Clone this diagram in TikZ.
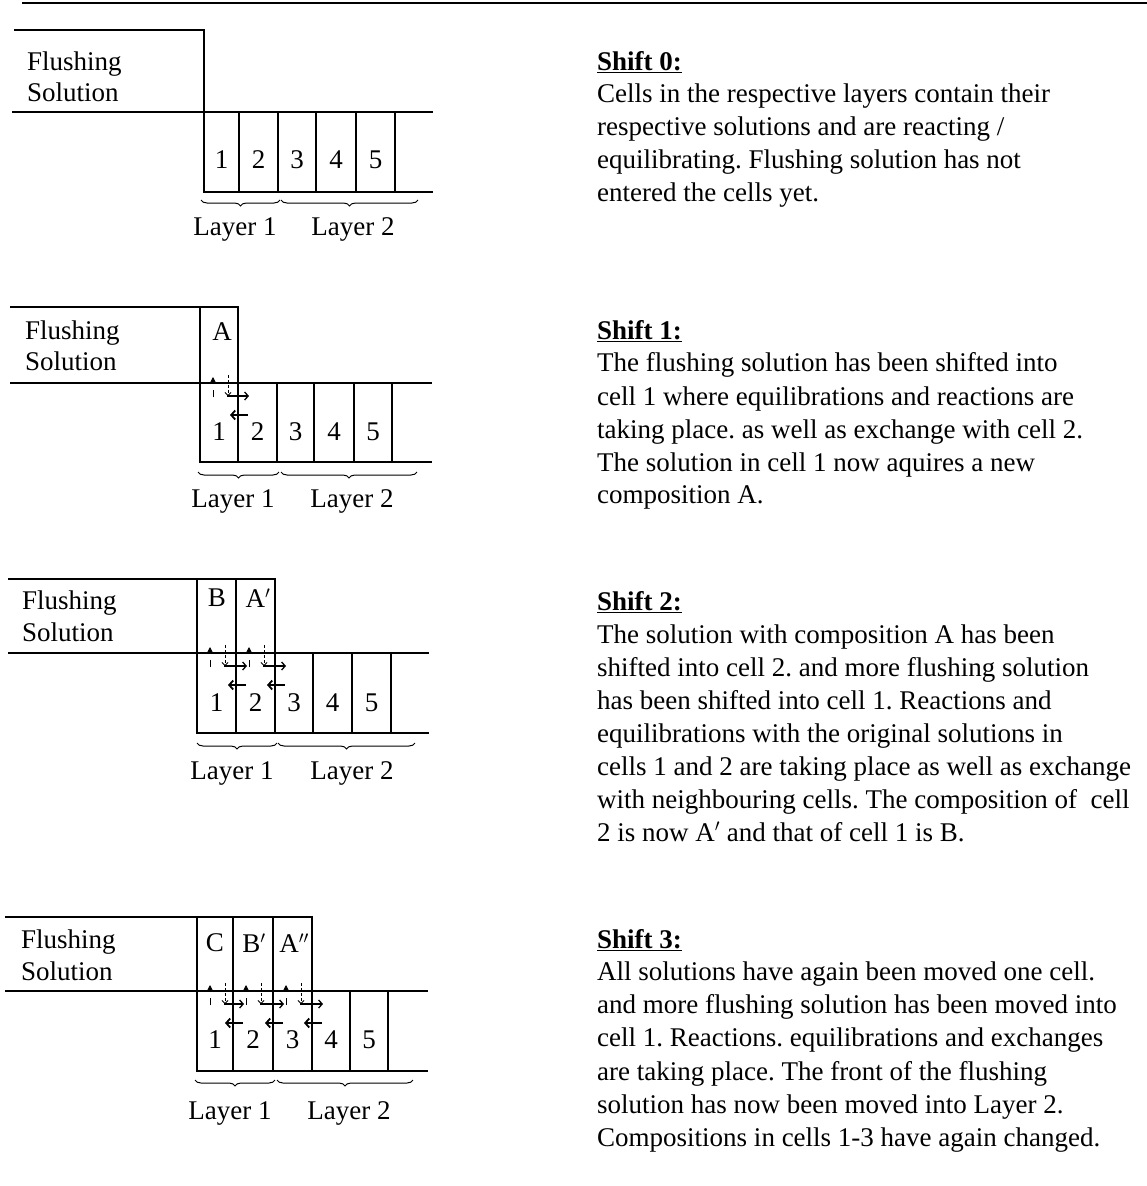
\documentclass[tikz,border=0pt]{standalone}
\usepackage{fontspec}
\setmainfont{Liberation Serif}
\usetikzlibrary{decorations.pathreplacing,arrows.meta}
\frenchspacing
\newcommand\xchg[3]{%
  \draw[upar] ({#1+13},{#3+14}) -- ({#1+13},{#3-6});
  \draw[downar] ({#1+28},{#3-8}) -- ({#1+28},{#3+13});
  \draw[rightar] ({#1+27},{#3+13}) -- ({#2+11},{#3+13});
  \draw[leftar] ({#2+10},{#3+32}) -- ({#2-8},{#3+32});
}
\begin{document}
\begin{tikzpicture}[x=1pt,y=-1pt,
  wall/.style={line width=2pt, line join=miter},
  txt/.style={anchor=base west, inner sep=0pt, font=\fontsize{27}{33}\selectfont},
  lab/.style={inner sep=0pt, font=\fontsize{27}{33}\selectfont},
  layerbrace/.style={decorate, decoration={brace, mirror, amplitude=6pt}, line width=1pt},
  upar/.style={dash pattern=on 7pt off 30pt, line width=0.8pt, -{Triangle[length=6pt,width=6pt]}},
  downar/.style={dash pattern=on 3pt off 2pt, line width=0.8pt, -{Straight Barb[length=3pt,width=6pt]}},
  rightar/.style={line width=1.3pt, -{Straight Barb[length=3.5pt,width=8pt]}},
  leftar/.style={line width=1.8pt, -{Straight Barb[length=4pt,width=9pt]}}
]
\fill[white] (0,0) rectangle (1147,1186);
\useasboundingbox (0,0) rectangle (1147,1186);
\draw[line width=2pt] (22,3) -- (1147,3);

% ---------------- Shift 0 ----------------
\draw[wall] (14,30) -- (204,30) -- (204,192) -- (433,192);
\draw[wall] (12,112) -- (433,112);
\foreach \x in {239,278,316,356,395} \draw[wall] (\x,112) -- (\x,192);
\node[txt] (f0) at (27,70) {Flushing};
\node[txt] (s0) at (27,101) {Solution};
\foreach \x/\n in {221.5/1,258.5/2,297/3,336/4,375.5/5} \node[lab] (c0\n) at (\x,160) {\n};
\draw[layerbrace] (201,200) -- (280,200);
\draw[layerbrace] (281,200) -- (418,200);
\node[lab] (l01) at (235,229) {Layer 1};
\node[lab] (l02) at (353,229) {Layer 2};

\node[txt] (h0) at (597,70) {\textbf{\underline{Shift 0:}}};
\node[txt] at (597,102) {Cells in the respective layers contain their};
\node[txt] at (597,135) {respective solutions and are reacting /};
\node[txt] at (597,168) {equilibrating. Flushing solution has not};
\node[txt] at (597,201) {entered the cells yet.};

% ---------------- Shift 1 ----------------
\draw[wall] (10,307) -- (238,307) -- (238,462);
\draw[wall] (200,307) -- (200,462) -- (432,462);
\draw[wall] (10,383) -- (432,383);
\foreach \x in {277,314,354,392} \draw[wall] (\x,383) -- (\x,462);
\node[txt] (f1) at (25,339) {Flushing};
\node[txt] (s1) at (25,370) {Solution};
\node[lab] (t1a) at (222,332) {A};
\foreach \x/\n in {219/1,257.5/2,295.5/3,334/4,373/5} \node[lab] (c1\n) at (\x,432) {\n};
\xchg{200}{238}{383}
\draw[layerbrace] (198,472) -- (279,472);
\draw[layerbrace] (281,472) -- (417,472);
\node[lab] (l11) at (233,501) {Layer 1};
\node[lab] (l12) at (352,501) {Layer 2};

\node[txt] (h1) at (597,339) {\textbf{\underline{Shift 1:}}};
\node[txt] at (597,371) {The flushing solution has been shifted into};
\node[txt] at (597,405) {cell 1 where equilibrations and reactions are};
\node[txt] at (597,438) {taking place. as well as exchange with cell 2.};
\node[txt] at (597,471) {The solution in cell 1 now aquires a new};
\node[txt] at (597,503) {composition A.};

% ---------------- Shift 2 ----------------
\draw[wall] (8,579) -- (275,579) -- (275,733);
\draw[wall] (197,579) -- (197,733) -- (429,733);
\draw[wall] (236,579) -- (236,733);
\draw[wall] (8,653) -- (429,653);
\foreach \x in {313,352,391} \draw[wall] (\x,653) -- (\x,733);
\node[txt] (f2) at (22,609) {Flushing};
\node[txt] (s2) at (22,641) {Solution};
\node[lab] (t2b) at (217,598) {B};
\node[lab] (t2a) at (258,598) {A$'$};
\foreach \x/\n in {216.5/1,255.5/2,294/3,332.5/4,371.5/5} \node[lab] (c2\n) at (\x,703) {\n};
\xchg{197}{236}{653}
\xchg{236}{275}{653}
\draw[layerbrace] (197,743) -- (277,743);
\draw[layerbrace] (278,743) -- (415,743);
\node[lab] (l21) at (232,773) {Layer 1};
\node[lab] (l22) at (352,773) {Layer 2};

\node[txt] (h2) at (597,610) {\textbf{\underline{Shift 2:}}};
\node[txt] at (597,643) {The solution with composition A has been};
\node[txt] at (597,676) {shifted into cell 2. and more flushing solution};
\node[txt] at (597,709) {has been shifted into cell 1. Reactions and};
\node[txt] at (597,742) {equilibrations with the original solutions in};
\node[txt] at (597,775) {cells 1 and 2 are taking place as well as exchange};
\node[txt] at (597,808) {with neighbouring cells. The composition of\ \ cell};
\node[txt] at (597,841) {2 is now A$'$ and that of cell 1 is B.};

% ---------------- Shift 3 ----------------
\draw[wall] (5,917) -- (312,917) -- (312,1071);
\draw[wall] (197,917) -- (197,1071) -- (428,1071);
\draw[wall] (233,917) -- (233,1071);
\draw[wall] (273,917) -- (273,1071);
\draw[wall] (5,991) -- (428,991);
\foreach \x in {350,388} \draw[wall] (\x,991) -- (\x,1071);
\node[txt] (f3) at (21,948) {Flushing};
\node[txt] (s3) at (21,980) {Solution};
\node[lab] (t3c) at (215,943) {C};
\node[lab] (t3b) at (254,943) {B$'$};
\node[lab] (t3a) at (294,943) {A$''$};
\foreach \x/\n in {215/1,253/2,292.5/3,331/4,369/5} \node[lab] (c3\n) at (\x,1040) {\n};
\xchg{197}{233}{991}
\xchg{233}{273}{991}
\xchg{273}{312}{991}
\draw[layerbrace] (195,1080) -- (275,1080);
\draw[layerbrace] (277,1080) -- (413,1080);
\node[lab] (l31) at (230,1113) {Layer 1};
\node[lab] (l32) at (349,1113) {Layer 2};

\node[txt] (h3) at (597,948) {\textbf{\underline{Shift 3:}}};
\node[txt] at (597,980) {All solutions have again been moved one cell.};
\node[txt] at (597,1013) {and more flushing solution has been moved into};
\node[txt] at (597,1046) {cell 1. Reactions. equilibrations and exchanges};
\node[txt] at (597,1080) {are taking place. The front of the flushing};
\node[txt] at (597,1113) {solution has now been moved into Layer 2.};
\node[txt] at (597,1146) {Compositions in cells 1-3 have again changed.};
\end{tikzpicture}
\end{document}
